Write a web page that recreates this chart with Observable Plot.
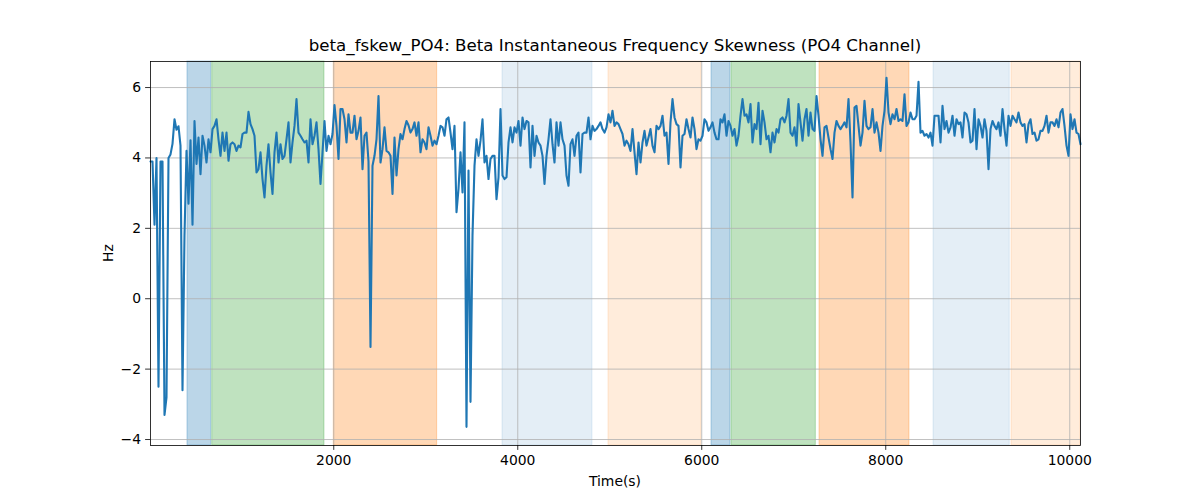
<!DOCTYPE html>
<html>
<head>
<meta charset="utf-8">
<script src="https://cdn.jsdelivr.net/npm/d3@7"></script>
<script src="https://cdn.jsdelivr.net/npm/@observablehq/plot@0.6"></script>
<style>
  html, body { margin: 0; padding: 0; background: white; }
  #wrap { position: relative; width: 1200px; height: 500px; font-family: "DejaVu Sans", sans-serif; }
  #wrap svg { position: absolute; left: 0; top: 0; }
  .title { position: absolute; left: 150px; width: 930px; top: 36px; text-align: center; font-size: 16.67px; line-height: 20px; color: black; white-space: nowrap; }
  .xlabel { position: absolute; left: 150px; width: 930px; top: 472px; text-align: center; font-size: 13.9px; line-height: 18px; color: black; }
  .ylabel { position: absolute; left: 78px; top: 244px; width: 60px; text-align: center; font-size: 13.9px; line-height: 18px; color: black; transform: rotate(-90deg); }
</style>
</head>
<body>
<div id="wrap">
  <div class="title">beta_fskew_PO4: Beta Instantaneous Frequency Skewness (PO4 Channel)</div>
  <div class="xlabel">Time(s)</div>
  <div class="ylabel">Hz</div>
</div>
<script>
// Sampling grid of the recording (seconds)
const startTime = 8;
const sampleStep = 21.74;

// Skewness values (Hz), in time order, split in segments
const seg1 = [3.9,3.9,2.1,4.0,-2.5,3.9,3.9,-3.3,-2.8,4.0,4.1,4.4,5.1,4.8,4.9,4.35,-2.6,1.8,4.2,2.7,
  4.5,2.1,5.05,3.83,4.58,3.54,4.63,4.35,3.87,4.53,4.16,4.82,4.91,5.10,4.53,4.06,4.72,4.2,4.72,3.92,
  4.39,4.44,4.39,4.2,4.35,4.3,4.68,4.72,4.72,5.31,4.96,4.82,4.63,3.59,3.68,4.16,3.4,2.88,3.78,4.39,
  3.59,2.98,4.16,4.72,3.87,4.39,3.97,4.06,4.53,5.01,3.87,4.44,4.91,5.67,4.72,4.63,4.53,4.44,4.49,3.87,
  5.10,4.39,4.63,5.01,4.25,3.26,4.16,5.05,4.2,4.63,4.39,4.68,5.5,4.91,3.97,5.39,5.39];
const seg2 = [5.1,4.44,5.24,4.72,4.72,5.2,4.53,4.77,5.15,3.68,4.63,4.72,3.9,-1.37,3.78,4.06,4.53,5.76,3.87,4.25,
  4.87,4.2,4.16,4.06,2.98,4.58,3.5,4.25,4.68,4.53,4.82,5.05,4.93,4.72,4.82,5.01,4.63,5.01,4.16,4.53,
  4.44,4.25,4.87,4.63,4.35,4.49,4.39,4.63,4.91,4.87,4.63,5.1,5.15,4.72,4.25,4.91,2.46,3.12,4.16,3.02,
  5.01,-3.64,3.64,-2.93,1.8,3.78,4.53,4.06,4.49,5.1,3.87,4.06,3.4,3.97,4.06,4.06,2.83,3.45,5.39,3.5,
  3.4,3.45,4.44,4.87,4.44,4.87,4.72,5.05,4.35,5.15,4.82,5.05,5.01];
const seg3 = [3.73,4.91,4.06,4.63,4.44,4.35,4.06,3.26,4.06,4.53,5.1,4.39,3.87,5.01,4.35,5.01,4.53,4.35,3.5,3.21,
  4.39,4.53,4.06,4.63,4.72,3.59,4.68,4.72,4.72,5.15,4.53,4.91,4.77,4.82,4.91,5.01,4.82,4.72,4.87,5.24,
  5.01,5.34,4.91,5.01,4.96,4.82,4.68,4.35,4.49,4.39,4.2,4.82,4.16,3.54,4.44,3.87,4.44,4.77,4.35,4.58,
  4.82,4.35,4.16,4.91,4.82,4.91,5.2,4.63,4.72,3.83,5.01,5.67,5.15,4.96,4.91,3.73,4.63,4.68,5.1,4.82,
  4.58,5.15,4.82,4.25,4.53,4.49,4.63,5.1,5.01,4.77,4.87,5.01];
const seg4 = [4.72,4.53,4.53,5.1,5.01,5.24,4.63,5.05,4.91,4.63,4.82,4.35,4.63,5.2,5.67,5.2,5.24,5.01,5.53,4.44,
  4.96,4.82,5.57,4.39,5.34,5.01,4.53,4.63,4.16,4.72,4.44,4.82,4.72,5.1,5.15,5.01,5.2,5.67,4.72,4.63,
  4.87,4.35,5.53,5.01,4.49,5.1,5.39,4.63,5.29,4.82,4.77,5.76,5.2,4.53,4.06,4.87,4.91,4.58,4.25,3.97,
  4.72,5.05,4.91,4.82,4.91,5.01,4.87,5.67,4.44,2.88,5.43,5.48,4.91,4.35,4.72,5.62,4.91,4.82,4.87,5.39,
  4.72,5.01,4.72,4.2,4.91,5.34,6.28,5.29,4.96,5.24,5.1,5.39,5.05,5.1];
const seg5 = [5.05,5.81,4.91,5.01,5.29,5.1,5.1,5.2,6.16,4.72,4.77,4.63,4.68,4.58,4.72,4.35,5.2,5.2,5.2,4.44,
  5.48,4.82,5.05,4.72,4.87,5.2,4.63,5.1,4.96,5.01,4.58,5.29,5.24,5.01,4.44,4.49,5.39,4.25,5.1,4.91,
  4.58,5.1,4.77,3.68,4.82,5.05,4.91,4.82,5.01,4.63,5.39,4.82,4.35,5.2,4.91,5.2,5.1,5.01,5.29,5.01,
  4.91,4.96,4.44,4.96,5.1,4.68,4.72,4.49,4.53,4.77,4.77,4.91,5.2,4.72,5.01,5.01,4.91,5.1,4.87,5.29,
  5.39,4.91,4.35,4.06,5.24,4.82,5.1,4.72,4.68,4.39];

// Shaded periods
const bandStart = [410, 679, 2000, 3834, 4986, 6106, 6323, 7280, 8519, 9367];
const bandEnd   = [668, 1899, 3124, 4812, 5997, 6312, 7240, 8258, 9348, 10117];
const bandColor = ["#1f77b4","#2ca02c","#ff7f0e","#1f77b4","#ff7f0e","#1f77b4","#2ca02c","#ff7f0e","#1f77b4","#ff7f0e"];
const bandAlpha = [0.3, 0.3, 0.3, 0.12, 0.15, 0.3, 0.3, 0.3, 0.12, 0.15];

// Axes
const xDomain = [8, 10117];
const yDomain = [-4.17, 6.74];
const xTicks = [2000, 4000, 6000, 8000, 10000];
const yTicks = [-4, -2, 0, 2, 4, 6];

const values = [...seg1, ...seg2, ...seg3, ...seg4, ...seg5];
const series = values.map((v, i) => ({t: startTime + i * sampleStep, v}));
const bands = bandStart.map((s, i) => ({x1: s, x2: bandEnd[i], c: bandColor[i], a: bandAlpha[i]}));
const fmt = d => d < 0 ? "\u2212" + Math.abs(d) : String(d);

const chart = Plot.plot({
  width: 1200,
  height: 500,
  marginLeft: 150,
  marginRight: 120,
  marginTop: 61,
  marginBottom: 55,
  x: {domain: xDomain},
  y: {domain: yDomain},
  color: {type: "identity"},
  opacity: {type: "identity"},
  style: {fontFamily: "DejaVu Sans", fontSize: "13.9px", color: "black", background: "transparent"},
  marks: [
    Plot.rect(bands, {x1: "x1", x2: "x2", fill: "c", fillOpacity: "a", stroke: "c", strokeOpacity: "a", strokeWidth: 1}),
    Plot.gridX(xTicks, {stroke: "#b0b0b0", strokeOpacity: 1, strokeWidth: 0.8}),
    Plot.gridY(yTicks, {stroke: "#b0b0b0", strokeOpacity: 1, strokeWidth: 0.8}),
    Plot.line(series, {x: "t", y: "v", stroke: "#1f77b4", strokeWidth: 2.1, strokeLinejoin: "round"}),
    Plot.frame({stroke: "black", strokeWidth: 0.8}),
    Plot.axisX(xTicks, {tickSize: 4.9, tickPadding: 4.5, tickFormat: fmt, label: null, strokeWidth: 0.8}),
    Plot.axisY(yTicks, {tickSize: 4.9, tickPadding: 4.5, tickFormat: fmt, label: null, strokeWidth: 0.8})
  ]
});
document.getElementById("wrap").prepend(chart);
</script>
</body>
</html>
